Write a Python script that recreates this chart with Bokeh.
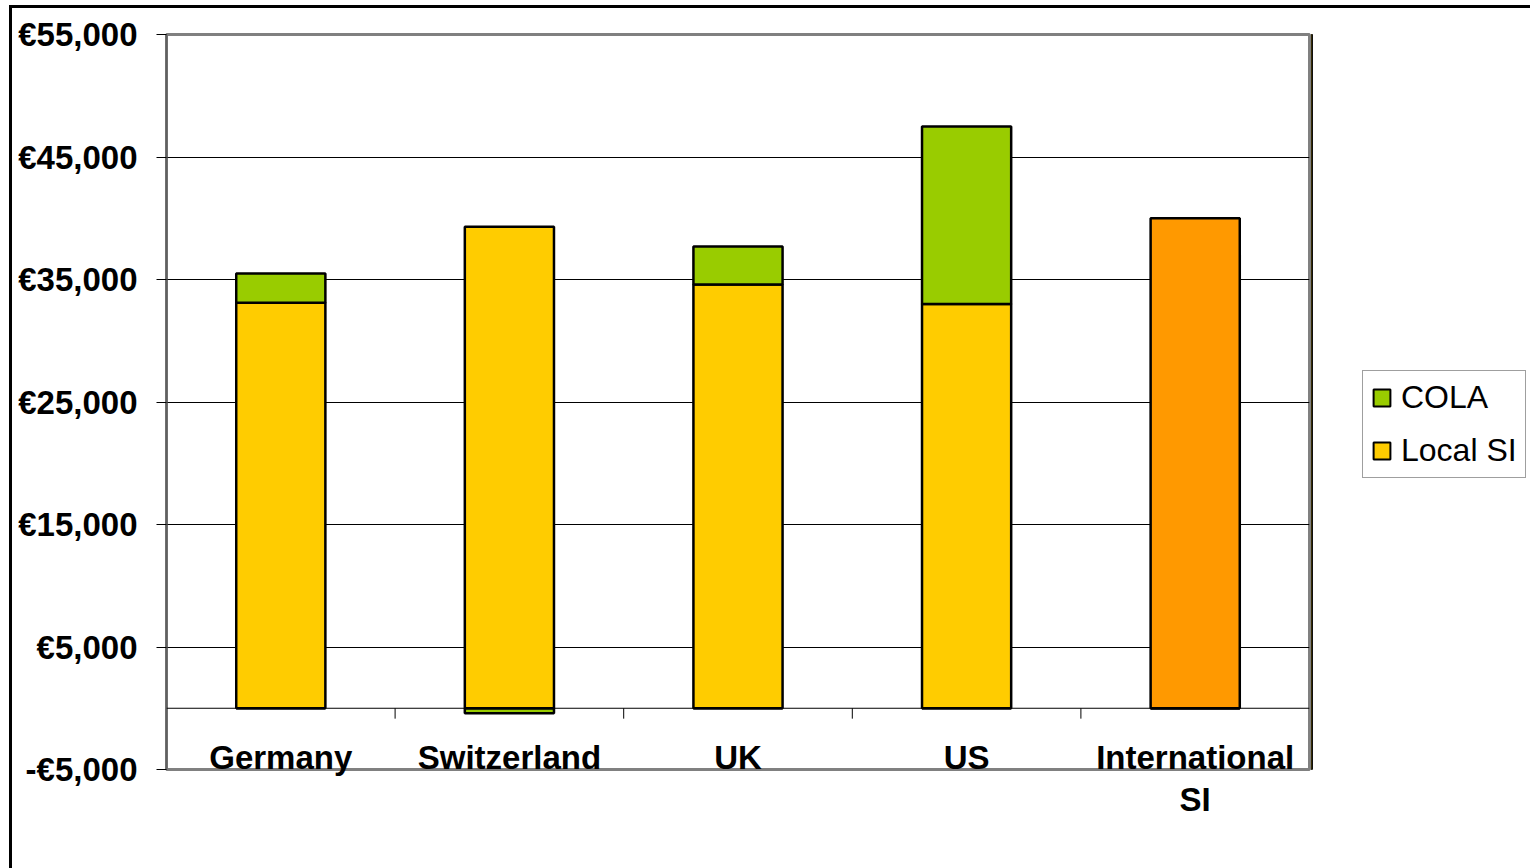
from bokeh.plotting import figure
from bokeh.layouts import row
from bokeh.models import (Range1d, FixedTicker, Span, ColumnDataSource,
                          Legend, LegendItem, LinearAxis)
from bokeh.embed import file_html
from bokeh.resources import INLINE

# ---- data ----
categories = ["Germany", "Switzerland", "UK", "US", "International SI"]
category_labels = ["Germany", "Switzerland", "UK", "US", "International\nSI"]
local_si = [33100, 39300, 34600, 33000, 0]
cola = [2400, -400, 3100, 14500, 0]
international_si = [0, 0, 0, 0, 40000]
y_ticks = [-5000, 5000, 15000, 25000, 35000, 45000, 55000]
y_tick_labels = ["-€5,000", "€5,000", "€15,000", "€25,000", "€35,000", "€45,000", "€55,000"]
legend_labels = ["COLA", "Local SI"]

FONT = "Liberation Sans"
n = len(categories)
xs = [i + 0.5 for i in range(n)]

LOCAL_C, COLA_C, INT_C = "#FFCC00", "#99CC00", "#FF9900"

p = figure(width=1299, height=860, x_range=Range1d(0, n), y_range=Range1d(-5000, 55000),
           output_backend="svg", toolbar_location=None, x_axis_type=None,
           min_border_left=154, min_border_right=2, min_border_top=26, min_border_bottom=99)

p.background_fill_color = "white"
p.border_fill_color = "white"
p.outline_line_color = "#808080"
p.outline_line_width = 3

# y axis
p.yaxis.ticker = FixedTicker(ticks=y_ticks)
p.yaxis.major_label_overrides = {t: l for t, l in zip(y_ticks, y_tick_labels)}
p.yaxis.major_label_text_font = FONT
p.yaxis.major_label_text_font_style = "bold"
p.yaxis.major_label_text_font_size = "33px"
p.yaxis.major_label_text_color = "black"
p.yaxis.major_label_standoff = 19
p.yaxis.major_tick_out = 10
p.yaxis.major_tick_in = 0
p.yaxis.minor_tick_out = 0
p.yaxis.minor_tick_in = 0
p.yaxis.axis_line_color = "#606060"
p.yaxis.axis_line_width = 2
p.yaxis.major_tick_line_color = "black"

# category axis (labels only; pulled up so they overlap the frame bottom as in the reference)
xaxis = LinearAxis(ticker=FixedTicker(ticks=xs),
                   major_label_overrides={x: l for x, l in zip(xs, category_labels)})
xaxis.axis_line_color = None
xaxis.major_tick_line_color = None
xaxis.minor_tick_line_color = None
xaxis.major_tick_out = 0
xaxis.major_tick_in = 0
xaxis.minor_tick_out = 0
xaxis.major_label_standoff = -31
xaxis.major_label_text_font = FONT
xaxis.major_label_text_font_style = "bold"
xaxis.major_label_text_font_size = "33px"
xaxis.major_label_text_color = "black"
xaxis.major_label_text_line_height = 1.15
p.add_layout(xaxis, "below")

p.xgrid.visible = False
p.ygrid.ticker = FixedTicker(ticks=y_ticks)
p.ygrid.grid_line_color = "black"
p.ygrid.grid_line_width = 1

# zero line
p.add_layout(Span(location=0, dimension="width", line_color="black", line_width=1))

# stacked bars
local_bottom = [0 for _ in local_si]
local_top = list(local_si)
cola_bottom = [l if c >= 0 else 0 for l, c in zip(local_si, cola)]
cola_top = [l + c if c >= 0 else c for l, c in zip(local_si, cola)]

bw = 0.39
src = ColumnDataSource(dict(x=xs, lb=local_bottom, lt=local_top, cb=cola_bottom, ct=cola_top,
                            ib=[0] * n, it=international_si))
r_local = p.vbar(x="x", bottom="lb", top="lt", width=bw, source=src,
                 fill_color=LOCAL_C, line_color="black", line_width=2.5)
r_cola = p.vbar(x="x", bottom="cb", top="ct", width=bw, source=src,
                fill_color=COLA_C, line_color="black", line_width=2.5)
r_int = p.vbar(x="x", bottom="ib", top="it", width=bw, source=src,
               fill_color=INT_C, line_color="black", line_width=2.5)

# category tick marks at boundaries
bounds = list(range(1, n))
p.segment(x0=bounds, x1=bounds, y0=[0] * len(bounds), y1=[-850] * len(bounds),
          line_color="black", line_width=1)

# legend panel (separate figure to the right so the legend can sit freely);
# its bars use the same data but lie outside this panel's ranges, so only the legend shows
p2 = figure(width=219, height=860, x_range=Range1d(100, 101), y_range=Range1d(0, 1),
            output_backend="svg", toolbar_location=None, x_axis_type=None, y_axis_type=None,
            min_border=0)
p2.outline_line_color = None
p2.xgrid.visible = False
p2.ygrid.visible = False
l_cola = p2.vbar(x="x", bottom="cb", top="ct", width=bw, source=src,
                 fill_color=COLA_C, line_color="black", line_width=2)
l_local = p2.vbar(x="x", bottom="lb", top="lt", width=bw, source=src,
                  fill_color=LOCAL_C, line_color="black", line_width=2)
legend = Legend(items=[LegendItem(label=legend_labels[0], renderers=[l_cola]),
                       LegendItem(label=legend_labels[1], renderers=[l_local])],
                location=(51, 291))
legend.label_text_font = FONT
legend.label_text_font_size = "32px"
legend.label_text_color = "black"
legend.glyph_width = 21
legend.glyph_height = 21
legend.label_height = 34
legend.label_standoff = 9
legend.spacing = 16
legend.padding = 8
legend.margin = 0
legend.border_line_color = "#404040"
legend.border_line_width = 1
legend.background_fill_color = "white"
legend.background_fill_alpha = 1
p2.add_layout(legend)

layout = row(p, p2, spacing=0)
layout.styles = {"margin-left": "9px", "margin-top": "5px",
                 "border-left": "3px solid black", "border-top": "3px solid black"}

open("out.html", "w").write(file_html(layout, INLINE))
